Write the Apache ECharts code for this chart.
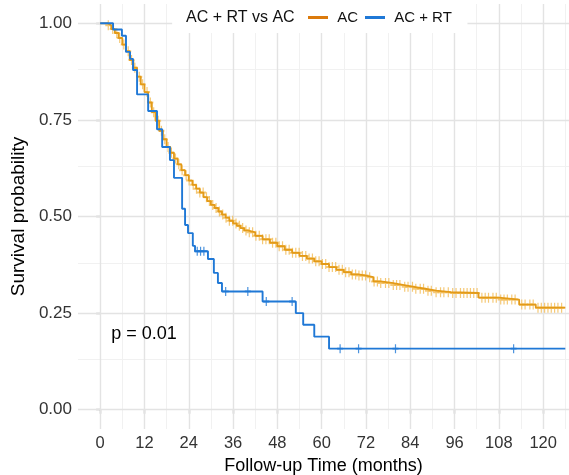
<!DOCTYPE html>
<html>
<head>
<meta charset="utf-8">
<script src="https://cdn.jsdelivr.net/npm/echarts@6/dist/echarts.min.js"></script>
<style>
  html, body { margin: 0; padding: 0; background: #fff; }
  #main { width: 569px; height: 475px; }
</style>
</head>
<body>
<div id="main"></div>
<script>
// Kaplan-Meier steps: [months, survival]
const acSteps = [
  [0, 1.0], [2, 0.995], [3, 0.985], [4, 0.975], [5, 0.962], [6, 0.945], [7, 0.928],
  [8, 0.905], [9, 0.885], [10, 0.862], [11, 0.842], [12, 0.822], [13, 0.795],
  [14, 0.770], [15, 0.748], [16, 0.722], [17, 0.700], [18, 0.680], [19, 0.665],
  [20, 0.650], [21, 0.635], [22, 0.620], [23, 0.607], [24, 0.593], [25, 0.582],
  [26, 0.572], [27, 0.562], [28, 0.550], [29, 0.540], [30, 0.530], [31, 0.522],
  [32, 0.513], [33, 0.505], [34, 0.497], [35, 0.489], [36, 0.482], [37, 0.476],
  [38, 0.470], [39, 0.464], [40, 0.459], [42, 0.450], [44, 0.441], [46, 0.432],
  [48, 0.423], [50, 0.414], [52, 0.406], [54, 0.398], [56, 0.391], [58, 0.384],
  [60, 0.377], [62, 0.369], [64, 0.362], [66, 0.356], [68, 0.350], [70, 0.347],
  [72, 0.343], [74, 0.332], [76, 0.328], [79, 0.323], [82, 0.318], [85, 0.313],
  [88, 0.308], [91, 0.304], [95, 0.302], [102.5, 0.290], [108, 0.285],
  [113.5, 0.272], [118, 0.264], [126, 0.264]
];
const acRtSteps = [
  [0, 1.0], [3.5, 0.984], [5.9, 0.968], [7.0, 0.926], [8.1, 0.908], [8.9, 0.879],
  [10.0, 0.816], [13.0, 0.773], [15.4, 0.726], [16.8, 0.680], [18.9, 0.646],
  [20.0, 0.600], [22.2, 0.520], [23.0, 0.478], [23.8, 0.457], [25.1, 0.424],
  [25.7, 0.410], [29.2, 0.390], [30.8, 0.354], [31.9, 0.328], [33.0, 0.306],
  [44.0, 0.280], [53.0, 0.250], [55.0, 0.220], [58.0, 0.189], [62.0, 0.158],
  [126, 0.158]
];
// censoring times (months)
const acCensor = [
  2.2, 3.4, 4.5, 5.3, 6.4, 7.6, 8.5, 9.4, 10.6, 11.5, 12.7, 13.6, 14.5, 15.7, 16.6,
  17.5, 18.4, 19.3, 20.4, 21.3, 22.2, 23.3, 24.1, 25.2, 26.1, 27.0, 27.9, 28.8, 29.6,
  30.5, 31.4, 32.3, 33.2, 34.1, 35.0, 35.9, 36.8, 37.7, 38.6, 39.5, 40.4, 41.3, 42.2,
  43.1, 44.0, 44.9, 45.8, 46.7, 47.6, 48.5, 49.4, 50.3, 51.2, 52.1, 53.0, 53.9, 54.8,
  55.7, 56.6, 57.5, 58.4, 59.3, 60.2, 61.1, 62.0, 62.9, 63.8, 64.7, 65.6, 66.5, 67.4,
  68.3, 69.2, 70.1, 71.0, 71.9, 73.0, 74.2, 75.1, 76.0, 77.3, 78.2, 79.4, 80.3, 81.2,
  82.5, 83.4, 84.6, 85.5, 86.7, 87.6, 88.8, 89.7, 91.0, 92.2, 93.1, 94.3, 95.5, 96.4,
  97.6, 98.5, 99.4, 100.3, 101.2, 102.1, 103.4, 104.3, 105.2, 106.4, 107.3, 108.5,
  109.4, 110.3, 111.5, 112.4, 114.2, 115.1, 116.4, 117.3, 118.6, 119.5, 120.4, 121.3,
  122.2, 123.1, 124.0, 125.0
];
const acRtCensor = [26.3, 27.2, 28.1, 34, 40, 45, 52, 65, 70, 80, 112];

const xMajor = [0, 12, 24, 36, 48, 60, 72, 84, 96, 108, 120];
const xMinor = [6, 18, 30, 42, 54, 66, 78, 90, 102, 114, 126];
const yMajor = [0, 0.25, 0.5, 0.75, 1];
const yMinor = [0.125, 0.375, 0.625, 0.875];
const pText = 'p = 0.01';

const FONT = '"Liberation Sans", Arial, Helvetica, sans-serif';
const ORANGE = '#E39A17';
const ORANGE_CENS = '#F3BC55';
const BLUE = '#1F78D6';

function survAt(steps, t) {
  let v = steps[0][1];
  for (const s of steps) { if (s[0] <= t) v = s[1]; }
  return v;
}

const plus = 'path://M4,0 h2 v10 h-2 z M0,4 h10 v2 h-10 z';

const chart = echarts.init(document.getElementById('main'), null, { renderer: 'canvas' });

const grid = (vals, axis, color, width) => vals.map(v => ({
  [axis]: v, lineStyle: { color: color, width: width, type: 'solid' }
}));

chart.setOption({
  animation: false,
  backgroundColor: '#fff',
  textStyle: { fontFamily: FONT },
  grid: { left: 78, top: 4, width: 491, height: 425, outerBoundsMode: 'none' },
  title: {
    text: 'AC + RT vs AC', left: 186, top: 9, padding: 0, z: 8,
    textStyle: { fontFamily: FONT, fontSize: 16, lineHeight: 17, fontWeight: 'normal', color: '#111' }
  },
  legend: {
    left: 308, top: 9, padding: 0, z: 8,
    icon: 'rect', itemWidth: 20, itemHeight: 3, itemGap: 7,
    formatter: name => ' ' + name,
    textStyle: { fontFamily: FONT, fontSize: 15, lineHeight: 17, color: '#111' },
    data: [
      { name: 'AC', itemStyle: { color: '#DB7A0C' } },
      { name: 'AC + RT', itemStyle: { color: BLUE } }
    ]
  },
  xAxis: {
    type: 'value', min: -6, max: 127,
    name: 'Follow-up Time (months)', nameLocation: 'middle', nameGap: 26,
    nameTextStyle: { fontFamily: FONT, fontSize: 18, color: '#000' },
    axisLine: { show: false },
    axisTick: { show: true, length: 4, customValues: xMajor, lineStyle: { color: '#333', width: 1.2 } },
    axisLabel: { customValues: xMajor, margin: 6, fontFamily: FONT, fontSize: 16.5, color: '#333' },
    splitLine: { show: false }
  },
  yAxis: {
    type: 'value', min: -0.05, max: 1.05,
    name: 'Survival probability', nameLocation: 'middle', nameGap: 46,
    nameTextStyle: { fontFamily: FONT, fontSize: 19, color: '#000' },
    axisLine: { show: false },
    axisTick: { show: true, length: 4, customValues: yMajor, lineStyle: { color: '#333', width: 1.2 } },
    axisLabel: {
      customValues: yMajor, margin: 6, fontFamily: FONT, fontSize: 17, color: '#333',
      formatter: v => v.toFixed(2)
    },
    splitLine: { show: false }
  },
  series: [
    {
      name: 'grid', type: 'line', data: [], z: 1, silent: true,
      markLine: {
        z: 1, silent: true, symbol: 'none', label: { show: false }, animation: false,
        data: [].concat(
          grid(xMinor, 'xAxis', '#F1F1F1', 1),
          grid(yMinor, 'yAxis', '#F1F1F1', 1),
          grid(xMajor, 'xAxis', '#E3E3E3', 1.4),
          grid(yMajor, 'yAxis', '#E3E3E3', 1.4)
        )
      }
    },
    {
      name: 'AC', type: 'line', step: 'end', data: acSteps, z: 3,
      showSymbol: false, symbol: 'none', color: ORANGE,
      lineStyle: { color: ORANGE, width: 1.8 }
    },
    {
      name: 'AC cens', type: 'scatter', z: 2, silent: true,
      data: acCensor.map(t => [t, survAt(acSteps, t)]),
      symbol: plus, symbolSize: [6, 10],
      itemStyle: { color: ORANGE_CENS }
    },
    {
      name: 'AC + RT', type: 'line', step: 'end', data: acRtSteps, z: 4,
      showSymbol: false, symbol: 'none', color: BLUE,
      lineStyle: { color: BLUE, width: 1.9 }
    },
    {
      name: 'AC + RT cens', type: 'scatter', z: 4, silent: true,
      data: acRtCensor.map(t => [t, survAt(acRtSteps, t)]),
      symbol: plus, symbolSize: [6, 9],
      itemStyle: { color: BLUE }
    }
  ]
});

const pPos = chart.convertToPixel({ gridIndex: 0 }, [3, 0.195]);
const boxL = chart.convertToPixel({ gridIndex: 0 }, [19.5, 1.05]);
const boxR = chart.convertToPixel({ gridIndex: 0 }, [99.5, 0.975]);
chart.setOption({
  graphic: [
    {
      type: 'rect', z: 6, silent: true,
      shape: { x: boxL[0], y: boxL[1], width: boxR[0] - boxL[0], height: boxR[1] - boxL[1] },
      style: { fill: '#fff' }
    },
    {
      type: 'text', x: pPos[0], y: pPos[1], z: 10,
      style: { text: pText, font: '18px ' + FONT, fill: '#000', textVerticalAlign: 'middle' }
    }
  ]
});
</script>
</body>
</html>
